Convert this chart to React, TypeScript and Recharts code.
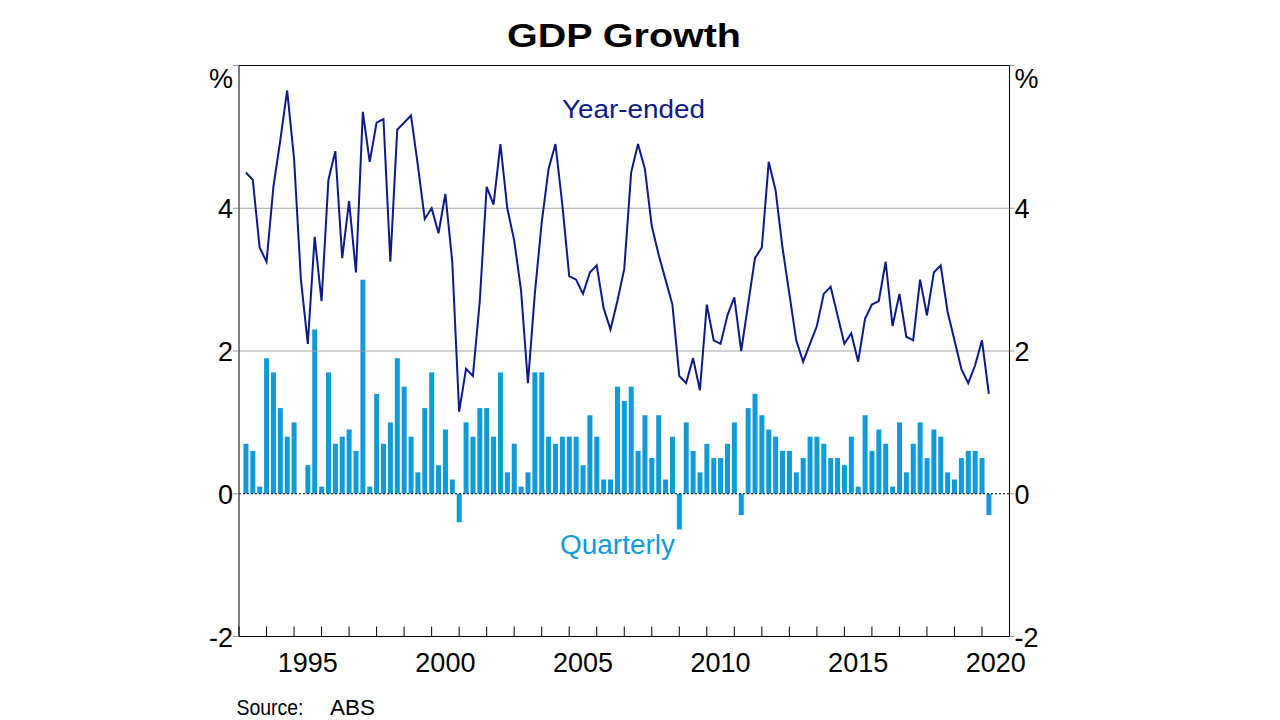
import { ComposedChart, Bar, Line, XAxis, YAxis, ReferenceLine } from 'recharts';

// Quarterly GDP, Mar-1993 to Mar-2020 (per cent)
const START_YEAR = 1993;

const yearEnded = [
  4.5, 4.4, 3.45, 3.25, 4.3, 4.95, 5.65, 4.7, 3.0, 2.1,
  3.6, 2.7, 4.4, 4.8, 3.3, 4.1, 3.1, 5.35, 4.65, 5.2,
  5.25, 3.25, 5.1, 5.2, 5.3, 4.6, 3.85, 4.0, 3.65, 4.2,
  3.25, 1.15, 1.75, 1.65, 2.7, 4.3, 4.05, 4.9, 4.0, 3.55,
  2.85, 1.55, 2.8, 3.8, 4.55, 4.9, 4.05, 3.05, 3.0, 2.8,
  3.1, 3.2, 2.6, 2.3, 2.7, 3.15, 4.5, 4.9, 4.55, 3.75,
  3.35, 3.0, 2.65, 1.65, 1.55, 1.9, 1.45, 2.65, 2.15, 2.1,
  2.5, 2.75, 2.0, 2.65, 3.3, 3.45, 4.65, 4.25, 3.45, 2.8,
  2.15, 1.85, 2.1, 2.35, 2.8, 2.9, 2.5, 2.1, 2.25, 1.85,
  2.45, 2.65, 2.7, 3.25, 2.35, 2.8, 2.2, 2.15, 3.0, 2.5,
  3.1, 3.2, 2.55, 2.15, 1.75, 1.55, 1.8, 2.15, 1.4,
];

const quarterly = [
  0.7, 0.6, 0.1, 1.9, 1.7, 1.2, 0.8, 1.0, 0.0, 0.4,
  2.3, 0.1, 1.7, 0.7, 0.8, 0.9, 0.6, 3.0, 0.1, 1.4,
  0.7, 1.0, 1.9, 1.5, 0.8, 0.3, 1.2, 1.7, 0.4, 0.9,
  0.2, -0.4, 1.0, 0.8, 1.2, 1.2, 0.8, 1.7, 0.3, 0.7,
  0.1, 0.3, 1.7, 1.7, 0.8, 0.7, 0.8, 0.8, 0.8, 0.4,
  1.1, 0.8, 0.2, 0.2, 1.5, 1.3, 1.5, 0.6, 1.1, 0.5,
  1.1, 0.2, 0.8, -0.5, 1.0, 0.6, 0.3, 0.7, 0.5, 0.5,
  0.7, 1.0, -0.3, 1.2, 1.4, 1.1, 0.9, 0.8, 0.6, 0.6,
  0.3, 0.5, 0.8, 0.8, 0.7, 0.5, 0.5, 0.4, 0.8, 0.1,
  1.1, 0.6, 0.9, 0.7, 0.1, 1.0, 0.3, 0.7, 1.0, 0.5,
  0.9, 0.8, 0.3, 0.2, 0.5, 0.6, 0.6, 0.5, -0.3,
];

const yearTicks = Array.from({ length: 29 }, (_, i) => START_YEAR + i);
const labelYears = [1995, 2000, 2005, 2010, 2015, 2020];
const yTicks = [-2, 0, 2, 4, 6];

// plotted at the end of each quarter
const data = quarterly.map((q, i) => ({
  date: START_YEAR + (i + 1) / 4,
  quarterly: q,
  yearEnded: yearEnded[i],
}));

const FONT = '"Liberation Sans", Arial, sans-serif';
const NAVY = '#0d1a8c';
const LIGHT = '#0f9bd7';

const YTick = (props: any) => {
  const { x, y, payload, textAnchor } = props;
  const top = payload.value === 6;
  return (
    <text x={x} y={y} dy={top ? 22 : 10} textAnchor={textAnchor} fontSize={27} fill="#000" fontFamily={FONT}>
      {top ? '%' : payload.value}
    </text>
  );
};

const NoLabel = () => <g />;

export default function App() {
  return (
    <div style={{ position: 'absolute', left: 0, top: 0, width: 1280, height: 720, background: '#fff' }}>
      <ComposedChart
        width={1280}
        height={720}
        data={data}
        margin={{ top: 65.5, left: 179, right: 210.5, bottom: 44.5 }}
      >
        {/* year ticks, drawn inward */}
        <XAxis
          type="number"
          dataKey="date"
          domain={[START_YEAR, START_YEAR + 28]}
          ticks={yearTicks}
          interval={0}
          tick={<NoLabel />}
          mirror
          tickSize={10}
          height={1}
          axisLine={false}
          tickLine={{ stroke: '#000' }}
        />
        {/* year labels centred in the year */}
        <XAxis
          xAxisId="lbl"
          type="number"
          dataKey="date"
          domain={[START_YEAR, START_YEAR + 28]}
          ticks={labelYears.map((y) => y + 0.5)}
          tickFormatter={(v: number) => String(Math.floor(v))}
          axisLine={false}
          tickLine={false}
          tickMargin={10}
          height={39}
          tick={{ fontSize: 27, fill: '#000', fontFamily: FONT }}
        />
        <YAxis
          domain={[-2, 6]}
          ticks={yTicks}
          width={60}
          tickSize={6}
          tickMargin={0}
          axisLine={{ stroke: '#000' }}
          tickLine={{ stroke: '#999' }}
          tick={<YTick />}
        />
        <YAxis
          yAxisId="r"
          orientation="right"
          domain={[-2, 6]}
          ticks={yTicks}
          width={60}
          tickSize={5}
          tickMargin={0}
          axisLine={{ stroke: '#000' }}
          tickLine={{ stroke: '#999' }}
          tick={<YTick />}
        />
        <ReferenceLine y={2} stroke="#a6a6a6" strokeWidth={1} />
        <ReferenceLine y={4} stroke="#a6a6a6" strokeWidth={1} />
        <ReferenceLine y={6} stroke="#000" strokeWidth={1} />
        <ReferenceLine y={-2} stroke="#000" strokeWidth={1} />
        <Bar dataKey="quarterly" fill={LIGHT} barSize={5} isAnimationActive={false} />
        <ReferenceLine y={0} stroke="#000" strokeWidth={1} strokeDasharray="2 2" />
        <Line
          xAxisId="lbl"
          yAxisId="r"
          type="linear"
          dataKey="yearEnded"
          stroke={NAVY}
          strokeWidth={2}
          dot={false}
          isAnimationActive={false}
        />
      </ComposedChart>
      <svg width={1280} height={720} style={{ position: 'absolute', left: 0, top: 0, pointerEvents: 'none' }}>
        <text x={507} y={47} fontSize={34} fontWeight="bold" fontFamily={FONT} fill="#000" textLength={234} lengthAdjust="spacingAndGlyphs">
          GDP Growth
        </text>
        <text x={562} y={118} fontSize={26.5} fontFamily={FONT} fill={NAVY} textLength={143} lengthAdjust="spacingAndGlyphs">
          Year-ended
        </text>
        <text x={560} y={554} fontSize={27} fontFamily={FONT} fill={LIGHT} textLength={115} lengthAdjust="spacingAndGlyphs">
          Quarterly
        </text>
        <text x={236.5} y={715} fontSize={22} fontFamily={FONT} fill="#000" textLength={67} lengthAdjust="spacingAndGlyphs">
          Source:
        </text>
        <text x={330} y={715} fontSize={22} fontFamily={FONT} fill="#000" textLength={45} lengthAdjust="spacingAndGlyphs">
          ABS
        </text>
      </svg>
    </div>
  );
}
